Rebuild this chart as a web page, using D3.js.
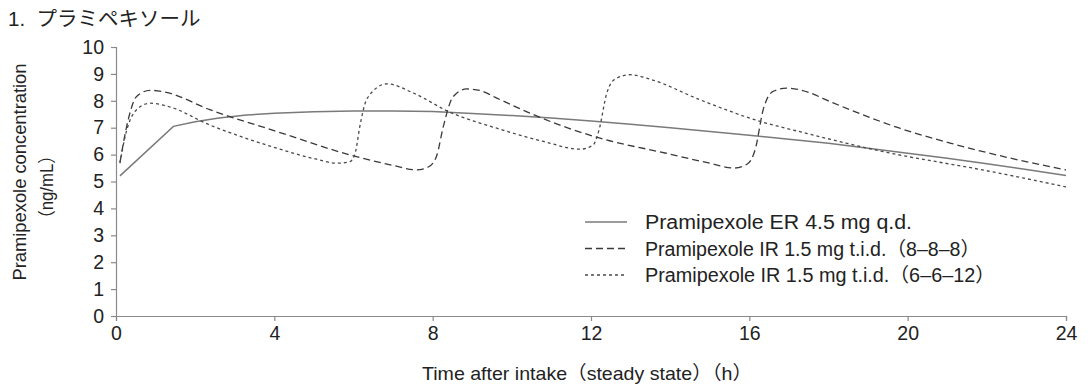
<!DOCTYPE html>
<html>
<head>
<meta charset="utf-8">
<script src="https://cdn.jsdelivr.net/npm/d3@7"></script>
<style>
  body { margin: 0; background: #fff; }
  svg text { font-family: "Liberation Sans", Arial, "Noto Sans CJK JP", sans-serif; fill: #222; }
</style>
</head>
<body>
<div id="chart"></div>
<script>
var width = 1088,
    height = 387;

// ER 4.5 mg q.d.
var erHours = [0.1, 1.45, 2.0, 2.6, 3.3, 4, 5, 6, 7, 8, 9, 10, 11, 12, 13, 14, 15, 16, 17, 18, 19, 20, 21, 22, 23, 24];
var erConc  = [5.21, 7.05, 7.22, 7.36, 7.47, 7.54, 7.59, 7.62, 7.62, 7.6, 7.53, 7.45, 7.36, 7.25, 7.13, 7.0, 6.86, 6.72,
               6.57, 6.42, 6.24, 6.05, 5.86, 5.66, 5.45, 5.22];

// IR 1.5 mg t.i.d. (8-8-8)
var ir888Hours = [0.1, 0.27, 0.52, 0.86, 1.3, 2.37, 4.06, 5.91, 7.0, 7.6, 7.9, 8.1, 8.27, 8.52, 8.86, 9.2, 9.62,
                  10.46, 11.3, 12.23, 13.9, 15.0, 15.6, 15.95, 16.15, 16.35, 16.6, 16.94, 17.3, 18.12, 18.54,
                  19.8, 21.07, 22.5, 24];
var ir888Conc  = [5.7, 7.05, 8.16, 8.39, 8.3, 7.67, 6.86, 5.99, 5.6, 5.43, 5.55, 5.95, 7.05, 8.16, 8.44, 8.38, 8.1,
                  7.54, 7.05, 6.61, 6.05, 5.68, 5.5, 5.65, 6.2, 7.67, 8.35, 8.47, 8.4, 7.92, 7.67,
                  6.98, 6.43, 5.9, 5.43];

// IR 1.5 mg t.i.d. (6-6-12)
var ir6612Hours = [0.1, 0.23, 0.52, 0.86, 1.3, 2.37, 4.06, 5.0, 5.58, 5.91, 6.05, 6.16, 6.35, 6.84, 7.51, 8.4,
                   9.62, 10.8, 11.72, 12.05, 12.2, 12.4, 12.6, 12.99, 13.5, 14.75, 16.35, 17.28, 19.38, 22, 24];
var ir6612Conc  = [5.68, 6.67, 7.67, 7.91, 7.8, 7.1, 6.24, 5.85, 5.68, 5.74, 6.1, 7.05, 8.1, 8.63, 8.29, 7.6,
                   6.98, 6.49, 6.2, 6.35, 6.9, 8.29, 8.8, 8.97, 8.8, 8.04, 7.2, 6.85, 6.11, 5.4, 4.8];

var xTicks = [0, 4, 8, 12, 16, 20, 24];
var yTicks = d3.range(0, 11);

var legendLabels = [
  "Pramipexole ER 4.5 mg  q.d.",
  "Pramipexole IR 1.5 mg  t.i.d.\uFF088\u20138\u20138\uFF09",
  "Pramipexole IR 1.5 mg  t.i.d.\uFF086\u20136\u201312\uFF09"
];
var legendWidths = [267, 335, 350];

var series = [
  {hours: erHours, conc: erConc, stroke: "#7a7a7a", dash: null, w: 1.5, curve: d3.curveLinear},
  {hours: ir888Hours, conc: ir888Conc, stroke: "#3a3a3a", dash: "7,4", w: 1.3, curve: d3.curveMonotoneX},
  {hours: ir6612Hours, conc: ir6612Conc, stroke: "#4a4a4a", dash: "3,3", w: 1.3, curve: d3.curveMonotoneX}
];

var x = d3.scaleLinear().domain([0, 24]).range([116, 1066]);
var y = d3.scaleLinear().domain([0, 10]).range([316, 47]);

var svg = d3.select("#chart").append("svg")
  .attr("width", width)
  .attr("height", height);

svg.append("text")
  .attr("x", 8).attr("y", 26)
  .style("font-size", "20.5px")
  .text("1.\u00A0 プラミペキソール");

var yAxis = svg.append("g")
  .attr("transform", "translate(116,0)")
  .call(d3.axisLeft(y).tickValues(yTicks).tickSize(5).tickPadding(7));

var xAxis = svg.append("g")
  .attr("transform", "translate(0,316)")
  .call(d3.axisBottom(x).tickValues(xTicks).tickSize(5).tickPadding(5));

[xAxis, yAxis].forEach(function(g) {
  g.selectAll("path, line").attr("stroke", "#8a8a8a").attr("stroke-width", 1.2);
  g.selectAll("text").style("font-size", "19.5px").attr("fill", "#222").style("font-family", null);
});

// y label
svg.append("text")
  .attr("transform", "translate(26,172) rotate(-90)")
  .attr("text-anchor", "middle")
  .attr("textLength", 217).attr("lengthAdjust", "spacingAndGlyphs")
  .style("font-size", "19px")
  .text("Pramipexole concentration");
svg.append("text")
  .attr("transform", "translate(53,187) rotate(-90)")
  .attr("text-anchor", "middle")
  .attr("textLength", 80).attr("lengthAdjust", "spacingAndGlyphs")
  .style("font-size", "18px")
  .text("\uFF08ng/mL\uFF09");

// x label
svg.append("text")
  .attr("x", 587).attr("y", 380)
  .attr("text-anchor", "middle")
  .attr("textLength", 330).attr("lengthAdjust", "spacingAndGlyphs")
  .style("font-size", "19px")
  .text("Time after intake\uFF08steady state\uFF09\uFF08h\uFF09");

var line = d3.line()
  .x(function(d) { return x(d[0]); })
  .y(function(d) { return y(d[1]); });

series.forEach(function(s) {
  var pts = s.hours.map(function(h, i) { return [h, s.conc[i]]; });
  svg.append("path")
    .attr("d", line.curve(s.curve)(pts))
    .attr("fill", "none")
    .attr("stroke", s.stroke)
    .attr("stroke-width", s.w)
    .attr("stroke-dasharray", s.dash);
});

// legend
var legend = svg.append("g").attr("transform", "translate(585,222)");
series.forEach(function(s, i) {
  var row = legend.append("g").attr("transform", "translate(0," + (i * 26.5) + ")");
  row.append("line")
    .attr("x1", 0).attr("x2", 42)
    .attr("stroke", s.stroke)
    .attr("stroke-width", s.w)
    .attr("stroke-dasharray", s.dash);
  row.append("text")
    .attr("x", 60).attr("y", 7)
    .attr("textLength", legendWidths[i]).attr("lengthAdjust", "spacingAndGlyphs")
    .style("font-size", "19.5px")
    .text(legendLabels[i]);
});
</script>
</body>
</html>
